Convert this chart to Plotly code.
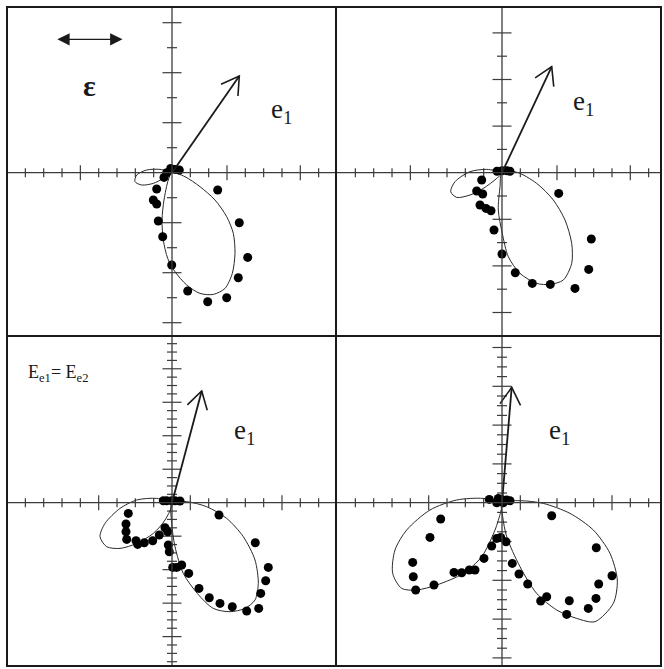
import numpy as np
import plotly.graph_objects as go

# ---- values (units = px of the original, origin at the axis crossing, y up) ----

# panel 1 (top left)
p1_dots_x = [-8, -5.3, -1.3, 3, 7.3, -15.3, -18.7, -15.3, -13.7, -9.3, -0.3, 15.7, 35.7, 54.7, 66.3, 75.7, 67.3, 45.7]
p1_dots_y = [-4.7, 0, 4.3, 3.3, 2.7, -16.3, -27.3, -31.3, -48.3, -64, -92.3, -118.3, -129, -125, -105, -84.7, -50, -17.3]
p1_lobe_a_x = [0, -3.7, -8, -10, -8.7, -4.3, 3, 14.7, 28, 41.3, 53, 60.3, 63, 61.3, 54.7, 43, 28, 13, 0]
p1_lobe_a_y = [0, -7.3, -27.3, -47.3, -67.3, -85.7, -99, -112.3, -120.7, -121.7, -115.7, -100.7, -80.7, -60.7, -44, -27.3, -14, -4, 0]
p1_lobe_b_x = [0, -12, -25.3, -35.3, -37, -30.3, -18.7, -8.7, 0]
p1_lobe_b_y = [0, 3.3, 2.7, -2.3, -9, -12.3, -10.7, -5.7, 0]
p1_e1 = [67.3, 96.7]

# panel 2 (top right)
p2_dots_x = [-5, 0, 5, 8, -20.3, -25.3, -19.3, -22, -16, -11, -8, 0, 13.3, 30.3, 48.3, 73, 86.7, 89.3, 56.7]
p2_dots_y = [1.5, 2, 2, 1.5, -7.3, -18.3, -21.3, -32.3, -35.7, -38, -57.3, -81.3, -100, -110.7, -111.7, -115.7, -96.7, -66.3, -20.7]
p2_lobe_a_x = [0, -2, -3.7, 0.3, 6.3, 18, 34.7, 48, 61.3, 69.7, 69.7, 63, 51.3, 34.7, 14.7, 0]
p2_lobe_a_y = [0, -14, -37.3, -60.7, -84, -100.7, -110.7, -111.7, -107.3, -90.7, -70.7, -47.3, -27.3, -10.7, 0.5, 0]
p2_lobe_b_x = [0, -15.3, -32, -47, -51.3, -45.3, -32, -18.7, -5.3, 0]
p2_lobe_b_y = [0, 3.3, 1, -9, -19, -24.7, -22.3, -15.7, -5.7, 0]
p2_e1 = [49.7, 106]

# panel 3 (bottom left)
p3_dots_x = [-8.7, -5.3, -0.3, 3, 8, -43.7, -46, -46, -45.3, -36, -34.3, -27.7, -19.3, -12.7, -7, -4.3,
             -3.7, -2.7, 0.7, 4.7, 9.7, 16.7, 27, 37.3, 48, 60.3, 74.7, 86.7, 88.7, 93.7, 96.3, 83.3, 47]
p3_dots_y = [2, 2, 2, 2, 1.7, -10.7, -21.3, -29, -36.7, -38, -41.7, -40, -38, -32.3, -25, -29,
             -42.3, -49, -64.7, -64.7, -62.3, -70.7, -85.7, -95, -100.7, -104, -108.3, -105.7, -90.7, -78, -64.7, -40, -12.3]
p3_lobe_a_x = [0, 14.7, 34.7, 54.7, 71.3, 83, 86.3, 83, 73, 58, 41.3, 25.3, 11.3, 3, -0.3, 0]
p3_lobe_a_y = [0, 1, -4, -15.7, -34, -57.3, -80.7, -97.3, -105.7, -109, -105.7, -90.7, -70.7, -44, -20.7, 0]
p3_lobe_b_x = [0, -15.3, -35.3, -52, -67, -72, -65.3, -52, -35.3, -18.7, -7, 0]
p3_lobe_b_y = [0, 4.3, 2.7, -5.7, -20.7, -34, -44, -45.7, -40.7, -30.7, -17.3, 0]
p3_e1 = [29.7, 111.7]

# panel 4 (bottom right)
p4_dots_x = [-12.7, -3.7, -0.3, 4.7, 8, -5.3, 1.3, -61.3, -72, -89.3, -88.7, -86.3, -68, -48, -40.3, -32.7, -27,
             -18, -10.3, -5.3, -1.3, 4, 10.3, 17, 25.7, 38.7, 44.7, 64.7, 67.3, 86.3, 94, 96.7, 110, 94.3, 49.7]
p4_dots_y = [3.3, 4.3, 3.3, 2.7, 2, 0, 0, -16.3, -34.7, -59.7, -74, -87.3, -82.3, -69.7, -70, -67.3, -67.3,
             -55.7, -43.3, -35.7, -34.7, -39, -60.7, -71.3, -81.3, -98.3, -94, -111.7, -98, -105.7, -95.7, -81.3, -73, -45, -13]
p4_lobe_a_x = [0, 18, 41.3, 68, 91.3, 108, 115.3, 111.3, 93, 74.7, 54.7, 34.7, 18, 4.7, 0.7, 0]
p4_lobe_a_y = [0, 2, -0.7, -10.7, -27.3, -50.7, -77.3, -100.7, -119, -115.7, -107.3, -90.7, -64, -34, -14, 0]
p4_lobe_b_x = [0, -18.7, -45.3, -72, -95.3, -107, -109.3, -100.3, -85.3, -65.3, -38.7, -20.3, -7, -1.3, 0]
p4_lobe_b_y = [0, 4.3, 2.7, -7.3, -27.3, -47.3, -70.7, -85.7, -87.3, -82.3, -70.7, -54, -27.3, -9, 0]
p4_e1 = [9.7, 115.3]

# axis tick spacing of each panel
x_tick_step = [18.33, 18.33, 18.33, 18.33]
x_tick_count = [8, 8, 8, 8]
x_tick_long = [[-5, 3, 7], [-5, 3, 7], [-4, 1, 6], [-4, 1, 6]]
y_tick_step = [25, 23.3, 8.37, 9.7]
y_tick_count = [6, 6, 19, 16]
y_tick_long_every = [2, 2, 4, 4]

# ---- page layout (px) ----
W, H = 664, 669
frame_x = [[7, 336], [336, 661], [7, 336], [336, 661]]
frame_y = [[7, 336], [7, 336], [336, 666], [336, 666]]
centre_x = [172, 502, 172, 502]
centre_y = [172.7, 172.7, 502.7, 502.7]
e1_label_pos = [[97, 62], [69, 70], [60, 71], [45, 71]]

panels = [
    (p1_dots_x, p1_dots_y, [(p1_lobe_a_x, p1_lobe_a_y), (p1_lobe_b_x, p1_lobe_b_y)], p1_e1),
    (p2_dots_x, p2_dots_y, [(p2_lobe_a_x, p2_lobe_a_y), (p2_lobe_b_x, p2_lobe_b_y)], p2_e1),
    (p3_dots_x, p3_dots_y, [(p3_lobe_a_x, p3_lobe_a_y), (p3_lobe_b_x, p3_lobe_b_y)], p3_e1),
    (p4_dots_x, p4_dots_y, [(p4_lobe_a_x, p4_lobe_a_y), (p4_lobe_b_x, p4_lobe_b_y)], p4_e1),
]

INK = "#1a1a1a"
AXIS = "#3c3c3c"
SERIF = "Liberation Serif, Times New Roman, serif"

fig = go.Figure()
layout = dict(width=W, height=H, margin=dict(l=0, r=0, t=0, b=0),
              paper_bgcolor="white", plot_bgcolor="white", showlegend=False, autosize=False)
shapes = []
annotations = []

for i, (dx, dy, lobes, e1) in enumerate(panels):
    n = "" if i == 0 else str(i + 1)
    xa, ya = "x" + n, "y" + n
    x0, x1 = frame_x[i]
    y0, y1 = frame_y[i]
    cx, cy = centre_x[i], centre_y[i]
    layout["xaxis" + n] = dict(domain=[x0 / W, x1 / W], range=[x0 - cx, x1 - cx],
                               visible=False, anchor=ya, fixedrange=True)
    layout["yaxis" + n] = dict(domain=[1 - y1 / H, 1 - y0 / H], range=[cy - y1, cy - y0],
                               visible=False, anchor=xa, fixedrange=True)

    # axes through the origin
    shapes.append(dict(type="line", xref=xa, yref=ya, x0=x0 - cx, x1=x1 - cx, y0=0, y1=0,
                       line=dict(color=AXIS, width=1.3)))
    shapes.append(dict(type="line", xref=xa, yref=ya, x0=0, x1=0, y0=cy - y1, y1=cy - y0,
                       line=dict(color=AXIS, width=1.3)))

    # tick marks crossing the axes
    tx, ty = [], []
    for k in range(-x_tick_count[i], x_tick_count[i] + 1):
        if k == 0:
            continue
        h = 7.5 if k in x_tick_long[i] else 4.5
        p = k * x_tick_step[i]
        tx += [p, p, None]
        ty += [-h, h, None]
    for k in range(-y_tick_count[i], y_tick_count[i] + 1):
        if k == 0:
            continue
        h = 9.5 if k % y_tick_long_every[i] == 0 else 5
        p = k * y_tick_step[i]
        tx += [-h, h, None]
        ty += [p, p, None]
    fig.add_trace(go.Scatter(x=tx, y=ty, mode="lines", xaxis=xa, yaxis=ya,
                             line=dict(color=AXIS, width=1.2), hoverinfo="skip"))

    # fitted lobes
    for lx, ly in lobes:
        fig.add_trace(go.Scatter(x=lx, y=ly, mode="lines", xaxis=xa, yaxis=ya,
                                 line=dict(color="#2a2a2a", width=1, shape="spline", smoothing=0.8),
                                 hoverinfo="skip"))

    # measured points
    fig.add_trace(go.Scatter(x=dx, y=dy, mode="markers", xaxis=xa, yaxis=ya,
                             marker=dict(color="black", size=9, line=dict(width=0))))

    # e1 arrow with open head
    ex, ey = e1
    ang = np.arctan2(ey, ex)
    barb = 20
    spread = np.radians(31)
    bx = [ex + barb * np.cos(ang + np.pi - spread), ex, ex + barb * np.cos(ang + np.pi + spread)]
    by = [ey + barb * np.sin(ang + np.pi - spread), ey, ey + barb * np.sin(ang + np.pi + spread)]
    fig.add_trace(go.Scatter(x=[0, ex], y=[0, ey], mode="lines", xaxis=xa, yaxis=ya,
                             line=dict(color=INK, width=1.8), hoverinfo="skip"))
    fig.add_trace(go.Scatter(x=bx, y=by, mode="lines", xaxis=xa, yaxis=ya,
                             line=dict(color=INK, width=1.6), hoverinfo="skip"))
    annotations.append(dict(xref=xa, yref=ya, x=e1_label_pos[i][0], y=e1_label_pos[i][1],
                            text="e<sub>1</sub>", showarrow=False, xanchor="left", yanchor="middle",
                            font=dict(family=SERIF, size=27, color=INK)))

# strain direction marker and epsilon in panel 1
annotations.append(dict(xref="x", yref="y", axref="x", ayref="y", x=-114.7, y=133.4, ax=-48, ay=133.4,
                        text="", showarrow=True, arrowhead=2, arrowside="end+start",
                        arrowsize=1.9, arrowwidth=1.3, arrowcolor=INK))
annotations.append(dict(xref="x", yref="y", x=-82.7, y=87.7, text="<b>ε</b>", showarrow=False,
                        font=dict(family=SERIF, size=30, color=INK)))
# equal moduli label in panel 3
annotations.append(dict(xref="x3", yref="y3", x=-146, y=129.4, text="E<sub>e1</sub>= E<sub>e2</sub>",
                        showarrow=False, xanchor="left", yanchor="middle",
                        font=dict(family=SERIF, size=18, color=INK)))

# panel frames
shapes.append(dict(type="rect", xref="paper", yref="paper", x0=7 / W, x1=661 / W, y0=1 - 666 / H, y1=1 - 7 / H,
                   line=dict(color=INK, width=2)))
shapes.append(dict(type="line", xref="paper", yref="paper", x0=336 / W, x1=336 / W, y0=1 - 666 / H, y1=1 - 7 / H,
                   line=dict(color=INK, width=2)))
shapes.append(dict(type="line", xref="paper", yref="paper", x0=7 / W, x1=661 / W, y0=1 - 336 / H, y1=1 - 336 / H,
                   line=dict(color=INK, width=2)))

layout["shapes"] = shapes
layout["annotations"] = annotations
fig.update_layout(**layout)

# the page body has a default margin; drop it so the figure sits at the window corner
fig.write_html("out.html", config={"displayModeBar": False},
               post_script="document.body.style.margin='0';")
